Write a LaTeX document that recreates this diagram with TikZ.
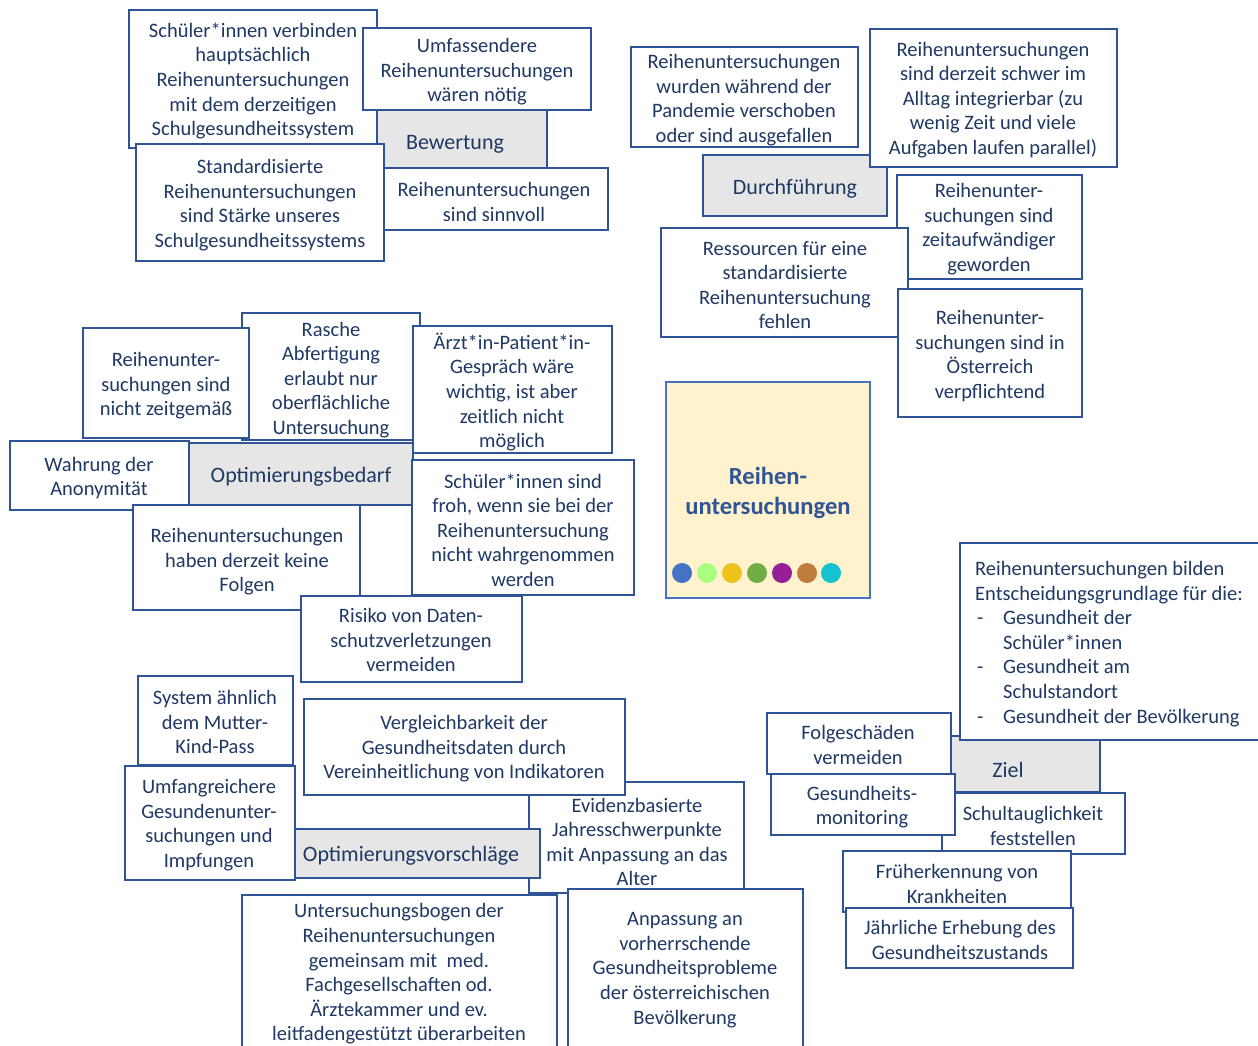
\documentclass[tikz,border=0pt]{standalone}
\usepackage{fontspec}
\setmainfont{Carlito}
\definecolor{bord}{HTML}{2F5496}
\definecolor{txtc}{HTML}{1F3864}
\definecolor{grayf}{HTML}{E6E6E6}
\definecolor{titlef}{HTML}{FFF2CC}
\definecolor{titleb}{HTML}{4472C4}
\definecolor{titlet}{HTML}{2F5597}
\definecolor{dA}{HTML}{4472C4}
\definecolor{dB}{HTML}{AAFF80}
\definecolor{dC}{HTML}{EDC21D}
\definecolor{dD}{HTML}{70AD47}
\definecolor{dE}{HTML}{961E96}
\definecolor{dF}{HTML}{C07C3C}
\definecolor{dG}{HTML}{16C2CE}
\newcommand\wbox[4]{\filldraw[boxline] (#1,#2) rectangle (#3,#4);}
\newcommand\gbox[4]{\filldraw[graybox] (#1,#2) rectangle (#3,#4);}
\begin{document}
\begin{tikzpicture}[x=1pt,y=-1pt,
  boxline/.style={draw=bord, line width=2pt, fill=white},
  graybox/.style={draw=bord, line width=2pt, fill=grayf},
  t/.style={font=\fontsize{20.5}{24.6}\selectfont, text=txtc, align=center, inner sep=0pt, yshift=-2pt},
  cat/.style={font=\fontsize{22}{26}\selectfont, text=txtc, inner sep=0pt, yshift=-2pt},
  dot/.style={circle, inner sep=0pt, minimum size=20pt}]
\useasboundingbox (0,0) rectangle (1258,1045);
\fill[white] (0,0) rectangle (1258,1045);

% ---------- Bewertung ----------
\wbox{129}{10}{377}{148}
\node[t] (a1) at (253,79) {Schüler*innen verbinden\\hauptsächlich\\Reihenuntersuchungen\\mit dem derzeitigen\\Schulgesundheitssystem};
\gbox{377}{110}{547}{168}
\node[cat] (bew) at (455,142) {Bewertung};
\wbox{363}{28}{591}{110}
\node[t] (a2) at (477,70) {Umfassendere\\Reihenuntersuchungen\\wären nötig};
\wbox{136}{144}{384}{261}
\node[t] (a3) at (260,203) {Standardisierte\\Reihenuntersuchungen\\sind Stärke unseres\\Schulgesundheitssystems};
\wbox{384}{168}{608}{230}
\node[t] (a4) at (494,200) {Reihenuntersuchungen\\sind sinnvoll};

% ---------- Durchfuehrung ----------
\wbox{631}{47}{858}{147}
\node[t] (b1) at (744,98) {Reihenuntersuchungen\\wurden während der\\Pandemie verschoben\\oder sind ausgefallen};
\gbox{703}{155}{887}{216}
\node[cat] (dur) at (795,187) {Durchführung};
\wbox{870}{29}{1117}{167}
\node[t] (b2) at (993,98) {Reihenuntersuchungen\\sind derzeit schwer im\\Alltag integrierbar (zu\\wenig Zeit und viele\\Aufgaben laufen parallel)};
\wbox{897}{175}{1082}{279}
\node[t] (b3) at (989,227) {Reihenunter-\\suchungen sind\\zeitaufwändiger\\geworden};
\wbox{661}{228}{908}{337}
\node[t] (b4) at (785,283) {Ressourcen für eine\\standardisierte\\Reihenuntersuchung\\fehlen};
\wbox{898}{289}{1082}{417}
\node[t] (b5) at (990,354) {Reihenunter-\\suchungen sind in\\Österreich\\verpflichtend};

% ---------- Title ----------
\filldraw[draw=titleb, line width=2pt, fill=titlef] (666,382) rectangle (870,598);
\node[font=\fontsize{24.6}{30}\selectfont\bfseries, text=titlet, align=center, inner sep=0pt, yshift=-2pt] (title) at (768,491) {Reihen-\\untersuchungen};
\node[dot, fill=dA] (d1) at (682,573) {};
\node[dot, fill=dB] (d2) at (707,573) {};
\node[dot, fill=dC] (d3) at (732,573) {};
\node[dot, fill=dD] (d4) at (757,573) {};
\node[dot, fill=dE] (d5) at (782,573) {};
\node[dot, fill=dF] (d6) at (807,573) {};
\node[dot, fill=dG] (d7) at (831,573) {};

% ---------- Optimierungsbedarf ----------
\wbox{242}{313}{420}{440}
\node[t] (c2) at (331,378) {Rasche\\Abfertigung\\erlaubt nur\\oberflächliche\\Untersuchung};
\wbox{83}{328}{249}{438}
\node[t] (c1) at (166,384) {Reihenunter-\\suchungen sind\\nicht zeitgemäß};
\wbox{413}{326}{612}{453}
\node[t] (c3) at (512,390) {Ärzt*in-Patient*in-\\Gespräch wäre\\wichtig, ist aber\\zeitlich nicht\\möglich};
\gbox{189}{443}{413}{505}
\node[cat] (obd) at (301,475) {Optimierungsbedarf};
\wbox{10}{441}{189}{510}
\node[t] (c4) at (99,476) {Wahrung der\\Anonymität};
\wbox{133}{505}{360}{610}
\node[t] (c5) at (247,560) {Reihenuntersuchungen\\haben derzeit keine\\Folgen};
\wbox{412}{460}{634}{595}
\node[t] (c6) at (523,528) {Schüler*innen sind\\froh, wenn sie bei der\\Reihenuntersuchung\\nicht wahrgenommen\\werden};
\wbox{301}{596}{522}{682}
\node[t] (c7) at (411,638) {Risiko von Daten-\\schutzverletzungen\\vermeiden};

% ---------- Optimierungsvorschlaege ----------
\wbox{529}{782}{744}{893}
\node[t] (d4b) at (637,840) {Evidenzbasierte\\Jahresschwerpunkte\\mit Anpassung an das\\Alter};
\wbox{304}{699}{625}{795}
\node[t] (d3b) at (464,747) {Vergleichbarkeit der\\Gesundheitsdaten durch\\Vereinheitlichung von Indikatoren};
\gbox{295}{829}{540}{878}
\node[cat] (ovs) at (411,854) {Optimierungsvorschläge};
\wbox{242}{895}{557}{1060}
\node[t] (d5b) at (399,972) {Untersuchungsbogen der\\Reihenuntersuchungen\\gemeinsam mit\ \ med.\\Fachgesellschaften od.\\Ärztekammer und ev.\\leitfadengestützt überarbeiten};
\wbox{568}{889}{803}{1060}
\node[t] (d6b) at (685,968) {Anpassung an\\vorherrschende\\Gesundheitsprobleme\\der österreichischen\\Bevölkerung};
\wbox{138}{676}{293}{765}
\node[t] (d1b) at (215,720) {System ähnlich\\dem Mutter-\\Kind-Pass};
\wbox{125}{766}{295}{880}
\node[t] (d2b) at (209,823) {Umfangreichere\\Gesundenunter-\\suchungen und\\Impfungen};

% ---------- Ziel ----------
\gbox{950}{736}{1100}{792}
\node[cat] (ziel) at (1008,768) {Ziel};
\wbox{960}{543}{1264}{740}
\node[t, align=left, anchor=west] (e1) at (975,642) {Reihenuntersuchungen bilden\\Entscheidungsgrundlage für die:\\\hspace*{2pt}\makebox[26pt][l]{-}Gesundheit der\\\hspace*{28pt}Schüler*innen\\\hspace*{2pt}\makebox[26pt][l]{-}Gesundheit am\\\hspace*{28pt}Schulstandort\\\hspace*{2pt}\makebox[26pt][l]{-}Gesundheit der Bevölkerung};
\wbox{942}{793}{1125}{854}
\node[t] (e4) at (1033,824) {Schultauglichkeit\\feststellen};
\wbox{767}{713}{951}{774}
\node[t] (e2) at (858,743) {Folgeschäden\\vermeiden};
\wbox{771}{774}{955}{835}
\node[t] (e3) at (862,805) {Gesundheits-\\monitoring};
\wbox{843}{851}{1071}{912}
\node[t] (e5) at (957,882) {Früherkennung von\\Krankheiten};
\wbox{846}{908}{1073}{968}
\node[t] (e6) at (960,938) {Jährliche Erhebung des\\Gesundheitszustands};
\end{tikzpicture}
\end{document}
